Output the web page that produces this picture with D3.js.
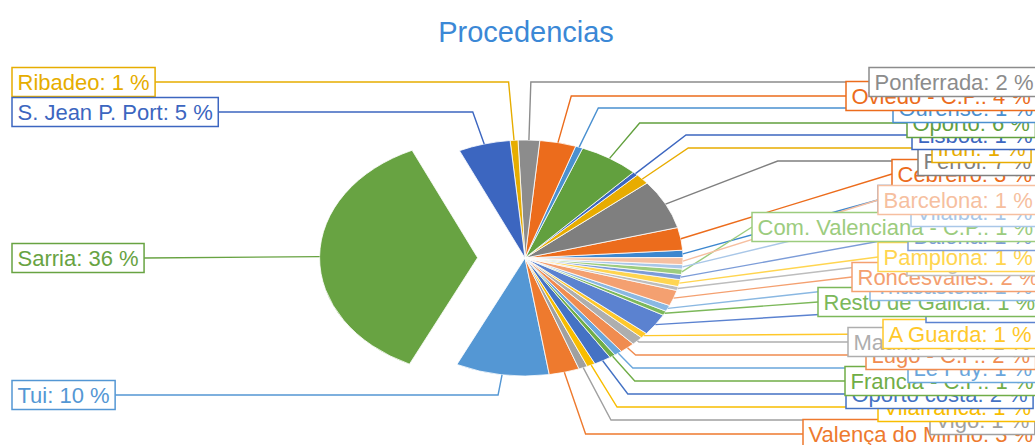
<!DOCTYPE html>
<html>
<head>
<meta charset="utf-8">
<script src="https://cdn.jsdelivr.net/npm/d3@7"></script>
<style>
body { margin: 0; background: #fff; overflow: hidden; }
text { font-family: "Liberation Sans", Arial, sans-serif; }
</style>
</head>
<body>
<svg id="chart" width="1035" height="445"></svg>
<script>
// data order as in the sheet (slices run counter-clockwise on screen)
var names = ["Astorga", "Cebreiro", "Ferrol", "Irun", "Lisboa", "Oporto", "Ourense", "Oviedo - C.P.",
  "Ponferrada", "Ribadeo", "S. Jean P. Port", "Sarria", "Tui", "Valença do Minho", "Vigo", "Vilafranca",
  "Oporto costa", "Francia - C.P.", "Le Puy", "Lugo - C.P.", "Madrid - C.P.", "A Guarda", "León",
  "Resto de Galicia", "Triacastela", "Roncesvalles", "Burgos", "Pamplona", "Baiona",
  "Com. Valenciana - C.P.", "Vilalba", "Barcelona"];

var values = [1.0, 3.1, 6.8, 1.45, 0.55, 6.1, 0.75, 3.7,
  2.2, 0.8, 5.3, 36.1, 9.55, 3.1, 0.9, 0.85,
  1.75, 0.6, 0.8, 1.55, 1.2, 0.75, 3.0,
  0.6, 0.85, 2.15, 0.55, 0.95, 0.7,
  0.75, 0.6, 0.95];

var colors = ["#3c87cf", "#ec6c1c", "#7f7f7f", "#e8ac00", "#3d67c0", "#62a03e", "#4a90d0", "#ec6c1c",
  "#8c8c8c", "#e6ad00", "#3c66c0", "#68a342", "#5497d4", "#ee7a2e", "#a0a0a0", "#f8bd00",
  "#4472c4", "#70ad47", "#6aa6dc", "#f08c50", "#aeaeae", "#ffc82a", "#5b82d0",
  "#7cb85a", "#8ab8e2", "#f4a070", "#bdbdbd", "#ffd550", "#7c9cd8",
  "#9ccc7e", "#a9c7e8", "#f6bfa0"];

var exploded = ["Sarria"];

// label boxes as they were dragged in the original: [left x, middle y]
var labelPos = {
  "Astorga": [878, 200], "Cebreiro": [892, 174], "Ferrol": [918, 161], "Irun": [932, 148],
  "Lisboa": [912, 135], "Oporto": [907, 123], "Ourense": [893, 108], "Oviedo - C.P.": [846, 96],
  "Ponferrada": [869, 82], "Ribadeo": [12, 82], "S. Jean P. Port": [12, 112], "Sarria": [12, 258],
  "Tui": [12, 395], "Valença do Minho": [803, 434], "Vigo": [930, 420], "Vilafranca": [878, 407],
  "Oporto costa": [846, 394], "Francia - C.P.": [845, 381], "Le Puy": [908, 368], "Lugo - C.P.": [866, 355],
  "Madrid - C.P.": [848, 342], "A Guarda": [883, 334], "León": [926, 308], "Resto de Galicia": [818, 302],
  "Triacastela": [870, 286], "Roncesvalles": [852, 277], "Burgos": [907, 261], "Pamplona": [878, 257],
  "Baiona": [908, 236], "Com. Valenciana - C.P.": [752, 227], "Vilalba": [911, 212], "Barcelona": [878, 200]
};

var W = 1035, H = 445;
var cx = 525, cy = 258, R = 118, sx = 1.339;
var explodeDist = 0.3 * R;
var startDeg = 89.8;

var svg = d3.select("#chart");

svg.append("text")
  .attr("x", 526).attr("y", 42)
  .attr("text-anchor", "middle")
  .attr("font-size", 29)
  .attr("fill", "#3b88d6")
  .text("Procedencias");

var data = names.map(function(n, i) { return { name: n, v: values[i], color: colors[i] }; });

var a0 = startDeg * Math.PI / 180;
var pie = d3.pie().sort(null).value(function(d) { return d.v; })
  .startAngle(a0).endAngle(a0 - 2 * Math.PI);
var arcs = pie(data);

var arc = d3.arc().innerRadius(0).outerRadius(R);

function offsetOf(d) {
  if (exploded.indexOf(d.data.name) < 0) return [0, 0];
  var m = (d.startAngle + d.endAngle) / 2;
  return [Math.sin(m) * explodeDist * sx, -Math.cos(m) * explodeDist];
}

var pieG = svg.append("g");
pieG.selectAll("path")
  .data(arcs)
  .enter().append("path")
  .attr("transform", function(d) {
    var o = offsetOf(d);
    return "translate(" + (cx + o[0]) + "," + (cy + o[1]) + ") scale(" + sx + ",1)";
  })
  .attr("d", arc)
  .attr("fill", function(d) { return d.data.color; })
  .attr("stroke", "#fff")
  .attr("stroke-width", 0.8)
  .attr("vector-effect", "non-scaling-stroke");

// label text + measure
var labG = svg.append("g");
var lineG = svg.insert("g", function() { return labG.node(); });

var boxH = 29;
arcs.forEach(function(d) {
  var pos = labelPos[d.data.name];
  var txt = d.data.name + ": " + Math.round(d.value) + " %";
  var g = labG.append("g");
  var rect = g.append("rect");
  var t = g.append("text")
    .attr("x", pos[0] + 5.5).attr("y", pos[1] + 8)
    .attr("font-size", 22)
    .attr("fill", d.data.color)
    .text(txt);
  var w = t.node().getComputedTextLength() + 11;
  rect.attr("x", pos[0]).attr("y", pos[1] - boxH / 2)
    .attr("width", w).attr("height", boxH)
    .attr("fill", "#fff")
    .attr("stroke", d.data.color)
    .attr("stroke-width", 1.5);

  // leader line
  var m = (d.startAngle + d.endAngle) / 2;
  var o = offsetOf(d);
  var px = cx + o[0] + Math.sin(m) * R * sx, py = cy + o[1] - Math.cos(m) * R;
  var dx = Math.sin(m) * sx, dy = -Math.cos(m);
  var right = pos[0] > cx;
  var ex = right ? pos[0] : pos[0] + w, ey = pos[1];
  var pts = [[px, py]];
  if (Math.abs(dy) > 1e-6) {
    var tt = (ey - py) / dy;
    if (tt > 0) {
      var bx = px + tt * dx;
      if ((right && bx < ex - 2) || (!right && bx > ex + 2)) pts.push([bx, ey]);
    }
  }
  pts.push([ex, ey]);
  lineG.append("path")
    .attr("d", d3.line()(pts))
    .attr("fill", "none")
    .attr("stroke", d.data.color)
    .attr("stroke-width", 1.4);
});
</script>
</body>
</html>
